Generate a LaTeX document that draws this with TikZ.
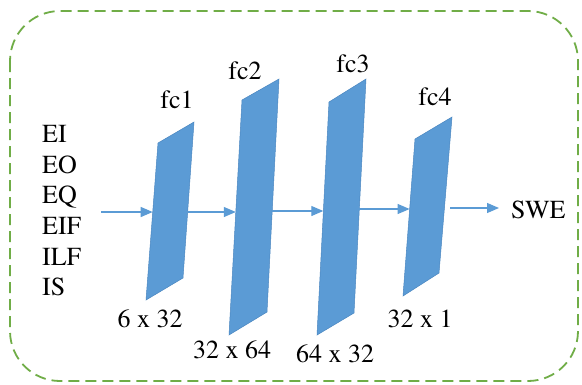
\documentclass[tikz,border=0pt]{standalone}
\usepackage{fontspec}
\newfontfamily\timesfont{texgyretermes-regular.otf}
\usetikzlibrary{arrows.meta}
\definecolor{layerblue}{HTML}{5B9BD5}
\definecolor{layeredge}{HTML}{4A86C0}
\definecolor{framegreen}{HTML}{70AD47}
\begin{document}
\begin{tikzpicture}[x=1pt,y=-1pt,
  layer/.style={fill=layerblue,draw=layeredge,line width=0.5pt},
  flow/.style={draw=layerblue,line width=1.2pt,-{Triangle[length=12pt,width=10pt]}},
  lbl/.style={inner sep=0pt,font=\timesfont\fontsize{26}{31}\selectfont},
  frame/.style={draw=framegreen,line width=1.8pt,dash pattern=on 11pt off 6pt,rounded corners=50pt}]
\useasboundingbox (0,0) rectangle (582,384);
\draw[frame] (10,11) rectangle (578,381);

% layers
\draw[layer] (158,143) -- (194,122) -- (183,278) -- (146,300) -- cycle;
\draw[layer] (242,100) -- (279,79) -- (267,312) -- (229,335) -- cycle;
\draw[layer] (329,102) -- (366,79) -- (354,313) -- (317,335) -- cycle;
\draw[layer] (415,139) -- (452,117) -- (439,273) -- (403,296) -- cycle;

% connector end points on the layer edges
\coordinate (inS) at (101,212);
\coordinate (fc1W) at (152.7,212);
\coordinate (fc1E) at (187.7,212);
\coordinate (fc2W) at (235.8,212);
\coordinate (fc2E) at (272.2,211);
\coordinate (fc3W) at (323.3,211);
\coordinate (fc3E) at (359.3,209);
\coordinate (fc4W) at (409.6,209);
\coordinate (fc4E) at (450,208);
\coordinate (outE) at (499,208);

\draw[flow] (inS) -- (fc1W);
\draw[flow] (fc1E) -- (fc2W);
\draw[flow] (fc2E) -- (fc3W);
\draw[flow] (fc3E) -- (fc4W);
\draw[flow] (fc4E) -- (outE);

% layer names
\node[lbl,anchor=base] (t1) at (177,108) {fc1};
\node[lbl,anchor=base] (t2) at (245,79) {fc2};
\node[lbl,anchor=base] (t3) at (353,72) {fc3};
\node[lbl,anchor=base] (t4) at (435,105) {fc4};

% sizes
\node[lbl,anchor=base] (s1) at (150,327) {6 x 32};
\node[lbl,anchor=base] (s2) at (232,358) {32 x 64};
\node[lbl,anchor=base] (s3) at (335,362) {64 x 32};
\node[lbl,anchor=base] (s4) at (420,327) {32 x 1};

% inputs
\node[lbl,anchor=base west] (i1) at (42,142) {EI};
\node[lbl,anchor=base west] (i2) at (42,173) {EO};
\node[lbl,anchor=base west] (i3) at (42,203) {EQ};
\node[lbl,anchor=base west] (i4) at (42,234) {EIF};
\node[lbl,anchor=base west] (i5) at (42,265) {ILF};
\node[lbl,anchor=base west] (i6) at (42,295) {IS};

% output
\node[lbl,anchor=base west] (o) at (511,218) {SWE};
\end{tikzpicture}
\end{document}
